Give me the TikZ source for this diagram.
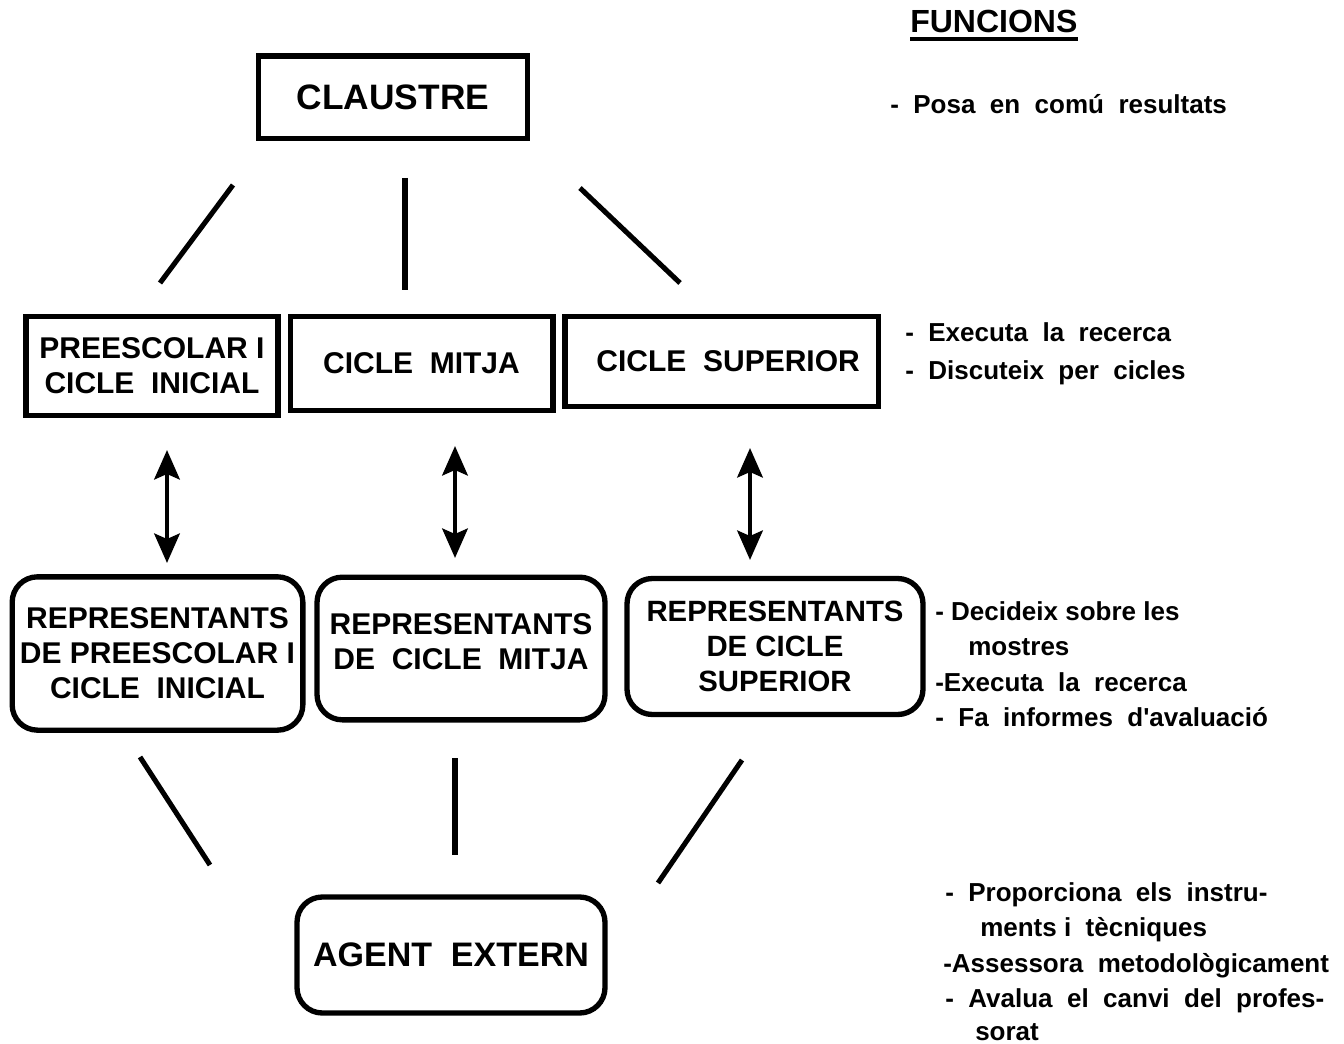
\documentclass[tikz,border=0pt]{standalone}
\usepackage{fontspec}
\setmainfont{Liberation Sans}[Ligatures=TeXOff]
\usetikzlibrary{arrows.meta}
\newcommand{\liftline}[1]{\raisebox{5.25pt}[\height][\depth]{#1}}
\begin{document}
\begin{tikzpicture}[x=0.75pt,y=-0.75pt,
  sqbox/.style={draw, line width=4pt, inner sep=0pt, align=center,
    font=\bfseries\fontsize{22.5}{26.25}\selectfont},
  rbox/.style={sqbox, rounded corners=19pt},
  link/.style={line width=3.8pt},
  dbl/.style={line width=3.6pt, {Stealth[length=22pt,width=19pt,inset=4pt]}-{Stealth[length=22pt,width=19pt,inset=4pt]}},
  fn/.style={anchor=base west, inner sep=0pt, font=\bfseries\fontsize{19.5}{23}\selectfont}]
\useasboundingbox (0,0) rectangle (1344,1044);

% boxes
\node[sqbox, minimum width=202pt, minimum height=62pt, font=\bfseries\fontsize{26.5}{30}\selectfont] (claustre) at (393,97.5) {CLAUSTRE};
\node[sqbox, minimum width=189pt, minimum height=74pt] (pre) at (152,366) {PREESCOLAR I\\CICLE\ \ INICIAL};
\node[sqbox, minimum width=197pt, minimum height=70pt] (mitja) at (421.5,363.5) {CICLE\ \ MITJA};
\node[sqbox, minimum width=235pt, minimum height=67pt] (sup) at (721.5,361.5) {\hspace*{10pt}CICLE\ \ SUPERIOR};
\node[rbox, minimum width=218pt, minimum height=115pt] (rpre) at (157.5,653.5) {REPRESENTANTS\\DE PREESCOLAR I\\CICLE\ \ INICIAL};
\node[rbox, minimum width=216pt, minimum height=107pt] (rmitja) at (461,648.5) {\liftline{REPRESENTANTS}\\\liftline{DE\ \ CICLE\ \ MITJA}};
\node[rbox, minimum width=222pt, minimum height=102pt, font=\bfseries\fontsize{22}{26.25}\selectfont] (rsup) at (775,646.5) {REPRESENTANTS\\DE CICLE\\SUPERIOR};
\node[rbox, minimum width=231pt, minimum height=87pt, font=\bfseries\fontsize{25.5}{30}\selectfont] (agent) at (451,955) {AGENT\ \ EXTERN};

% connector end points
\coordinate (c1a) at (233,185); \coordinate (c1b) at (160,283);
\coordinate (c2a) at (405,178); \coordinate (c2b) at (405,290);
\coordinate (c3a) at (580,188); \coordinate (c3b) at (680,283);
\coordinate (a1a) at (167,450); \coordinate (a1b) at (167,563);
\coordinate (a2a) at (455,446); \coordinate (a2b) at (455,558);
\coordinate (a3a) at (750,448); \coordinate (a3b) at (750,560);
\coordinate (b1a) at (140,757); \coordinate (b1b) at (210,865);
\coordinate (b2a) at (455,758); \coordinate (b2b) at (455,855);
\coordinate (b3a) at (742,760); \coordinate (b3b) at (658,883);

\draw[link] (c1a) -- (c1b);
\draw[link] (c2a) -- (c2b);
\draw[link] (c3a) -- (c3b);
\draw[dbl] (a1a) -- (a1b);
\draw[dbl] (a2a) -- (a2b);
\draw[dbl] (a3a) -- (a3b);
\draw[link] (b1a) -- (b1b);
\draw[link] (b2a) -- (b2b);
\draw[link] (b3a) -- (b3b);

% functions
\node[fn, font=\bfseries\fontsize{24}{28}\selectfont] (fhead) at (910,33) {FUNCIONS};
\draw[line width=3.6pt] ([yshift=-4.5pt]fhead.base west) -- ([yshift=-4.5pt]fhead.base east);
\node[fn] (f1) at (890,114) {-\ \ Posa\ \ en\ \ comú\ \ resultats};
\node[fn] (f2) at (905,342) {-\ \ Executa\ \ la\ \ recerca};
\node[fn] (f3) at (905,379) {-\ \ Discuteix\ \ per\ \ cicles};
\node[fn] (f4) at (935,620) {-\ Decideix sobre les};
\node[fn] (f5) at (968,655) {mostres};
\node[fn] (f6) at (935,691) {-Executa\ \ la\ \ recerca};
\node[fn] (f7) at (935,726) {-\ \ Fa\ \ informes\ \ d'avaluació};
\node[fn] (f8) at (945,901) {-\ \ Proporciona\ \ els\ \ instru-};
\node[fn] (f9) at (980,936) {ments i\ \ tècniques};
\node[fn] (f10) at (943,972) {-Assessora\ \ metodològicament};
\node[fn] (f11) at (945,1007) {-\ \ Avalua\ \ el\ \ canvi\ \ del\ \ profes-};
\node[fn] (f12) at (975,1040) {sorat};
\end{tikzpicture}
\end{document}
